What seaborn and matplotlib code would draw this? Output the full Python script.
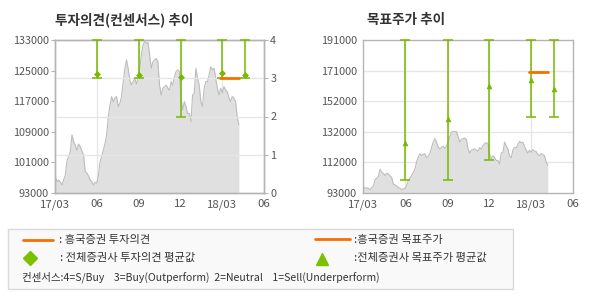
import numpy as np
import pandas as pd
import matplotlib
matplotlib.use("Agg")
import matplotlib.pyplot as plt
import seaborn as sns
from matplotlib.patches import Rectangle
from matplotlib.lines import Line2D

sns.set_theme(style="white")
plt.rcParams['font.family'] = ['Noto Sans CJK KR', 'DejaVu Sans']

# ---------------- data ----------------
price_start = "2017-03-02"
price_end = "2018-04-07"
price = [97000, 96000, 96400, 95800, 95100, 96500, 97700, 101600, 102500, 103800,
         108200, 106400, 105500, 104200, 105800, 105100, 104000, 102900, 98600, 98200,
         97500, 96400, 96000, 95100, 95800, 95600, 97700, 101200, 102500, 104200,
         106000, 108200, 113000, 116000, 118200, 116900, 117800, 118200, 115600, 116500,
         118200, 122100, 125600, 127800, 125600, 122500, 121200, 122100, 123000,
         121500, 123000, 125600, 129100, 131700, 132600, 132100, 132400, 129100, 125600,
         127300, 127800, 128200, 127300, 121200, 118600, 120400, 120800, 121200, 120400,
         119900, 122100, 121200, 123400, 124700, 125200, 124700, 117800, 114700, 116900,
         115600, 113800, 113800, 111600, 118600, 119100, 125600, 123000, 121200, 116900,
         115600, 120400, 122100, 122100, 123900, 126000, 125200, 125600, 123000, 120400,
         118600, 120400, 119100, 120800, 119900, 119500, 117800, 116900, 118200, 117800,
         116900, 113000, 110800]

event_dates = ["2017-06-01", "2017-09-01", "2017-12-01", "2018-03-01", "2018-04-20"]
op_avg = [3.10, 3.08, 3.02, 3.13, 3.08]
op_min = [3, 3, 2, 3, 3]
op_max = [4, 4, 4, 4, 4]

tp_avg = [125000, 140500, 161500, 165300, 159500]
tp_min = [101500, 101500, 114400, 141400, 141400]
tp_max = [191000, 191000, 191000, 191000, 191000]

hk_dates = ["2018-02-25", "2018-04-07"]
hk_op = [3, 3]
hk_tp = [170500, 170500]

xtick_dates = ["2017-03-01", "2017-06-01", "2017-09-01", "2017-12-01", "2018-03-01", "2018-06-01"]
xtick_labels = ["17/03", "06", "09", "12", "18/03", "06"]
left_yticks = [93000, 101000, 109000, 117000, 125000, 133000]
right_op_ticks = [0, 1, 2, 3, 4]
tp_tick_labels = ["93000", "112000", "132000", "152000", "171000", "191000"]

titles = ["투자의견(컨센서스) 추이", "목표주가 추이"]
leg_hk_op = ": 흥국증권 투자의견"
leg_all_op = ": 전체증권사 투자의견 평균값"
leg_hk_tp = ":흥국증권 목표주가"
leg_all_tp = ":전체증권사 목표주가 평균값"
leg_cons = "컨센서스:4=S/Buy    3=Buy(Outperform)  2=Neutral    1=Sell(Underperform)"

# ---------------- styling ----------------
GREEN = "#77b800"
ORANGE = "#f57000"
AREA = "#e0e0e0"
AREA_LINE = "#bdbdbd"
GRID = "#e6e6e6"
SPINE = "#b4b4b4"
TXT = "#555555"

df = pd.DataFrame({"date": pd.date_range(price_start, price_end, periods=len(price)),
                   "price": price})
ev = pd.DataFrame({"date": pd.to_datetime(event_dates), "op_avg": op_avg, "op_min": op_min,
                   "op_max": op_max, "tp_avg": tp_avg, "tp_min": tp_min, "tp_max": tp_max})
hk = pd.DataFrame({"date": pd.to_datetime(hk_dates), "op": hk_op, "tp": hk_tp})
xt = pd.to_datetime(xtick_dates)

W, H = 590, 300
fig = plt.figure(figsize=(W / 100, H / 100), dpi=100)
fig.patch.set_facecolor("white")

def px_axes(x0, y0, x1, y1):
    return fig.add_axes([x0 / W, 1 - y1 / H, (x1 - x0) / W, (y1 - y0) / H])

def style_axes(ax):
    for s in ax.spines.values():
        s.set_color(SPINE)
        s.set_linewidth(1.0)
    ax.tick_params(axis="both", colors=SPINE, labelcolor=TXT, labelsize=7.8,
                   length=3, width=0.8, pad=1.5)
    ax.tick_params(axis="x", labelsize=8.2)
    ax.set_xlabel("")
    ax.set_ylabel("")

def price_area(ax, bottom):
    ax.fill_between(df["date"], df["price"], bottom, color=AREA, lw=0, zorder=1)
    sns.lineplot(data=df, x="date", y="price", ax=ax, color=AREA_LINE, lw=0.8, zorder=2)

# ---------------- left chart ----------------
axL = px_axes(55, 40, 264, 193)
price_area(axL, left_yticks[0])
axL.set_ylim(left_yticks[0], left_yticks[-1])
axL.set_xlim(xt[0], xt[-1])
axL.set_yticks(left_yticks)
axL.set_yticklabels([str(v) for v in left_yticks])
axL.set_xticks(xt)
axL.set_xticklabels(xtick_labels)
for d in xt[1:-1]:
    axL.axvline(d, color=GRID, lw=1.0, zorder=0.5)
style_axes(axL)

axR = axL.twinx()
axR.set_ylim(0, 4)
axR.set_yticks(right_op_ticks)
axR.set_yticklabels([str(v) for v in right_op_ticks])
for v in right_op_ticks[1:-1]:
    axR.axhline(v, color=GRID, lw=1.0, zorder=0.5)
axR.errorbar(ev["date"], ev["op_avg"],
             yerr=[ev["op_avg"] - ev["op_min"], ev["op_max"] - ev["op_avg"]],
             fmt="none", ecolor=GREEN, elinewidth=1.1, capsize=3.3, capthick=1.1,
             clip_on=False, zorder=4)
sns.scatterplot(data=ev, x="date", y="op_avg", ax=axR, marker="D", s=9,
                color=GREEN, edgecolor=GREEN, linewidth=0.5, zorder=5, clip_on=False)
sns.lineplot(data=hk, x="date", y="op", ax=axR, color=ORANGE, lw=2.0, zorder=6)
style_axes(axR)
axL.set_zorder(0)
axR.patch.set_visible(False)

# ---------------- right chart ----------------
tp_lo = float(tp_tick_labels[0])
tp_hi = float(tp_tick_labels[-1])
tp_ticks = np.linspace(tp_lo, tp_hi, len(tp_tick_labels))
ax2 = px_axes(363, 40, 573, 193)
price_area(ax2, tp_lo)
ax2.set_ylim(tp_lo, tp_hi)
ax2.set_xlim(xt[0], xt[-1])
ax2.set_yticks(tp_ticks)
ax2.set_yticklabels(tp_tick_labels)
ax2.set_xticks(xt)
ax2.set_xticklabels(xtick_labels)
for d in xt[1:-1]:
    ax2.axvline(d, color=GRID, lw=1.0, zorder=0.5)
for v in tp_ticks[1:-1]:
    ax2.axhline(v, color=GRID, lw=1.0, zorder=0.5)
ax2.errorbar(ev["date"], ev["tp_avg"],
             yerr=[ev["tp_avg"] - ev["tp_min"], ev["tp_max"] - ev["tp_avg"]],
             fmt="none", ecolor=GREEN, elinewidth=1.1, capsize=3.3, capthick=1.1,
             clip_on=False, zorder=4)
sns.scatterplot(data=ev, x="date", y="tp_avg", ax=ax2, marker="^", s=12,
                color=GREEN, edgecolor=GREEN, linewidth=0.5, zorder=5, clip_on=False)
sns.lineplot(data=hk, x="date", y="tp", ax=ax2, color=ORANGE, lw=2.0, zorder=6)
style_axes(ax2)

# titles
fig.text(55 / W, 1 - 20 / H, titles[0], fontsize=9.8, fontweight="bold",
         color="#333333", va="center", ha="left")
fig.text(367 / W, 1 - 20 / H, titles[1], fontsize=9.8, fontweight="bold",
         color="#333333", va="center", ha="left")

# ---------------- legend box ----------------
lg = fig.add_axes([0, 0, 1, 1], zorder=-1)
lg.set_xlim(0, W)
lg.set_ylim(H, 0)
lg.axis("off")
lg.add_patch(Rectangle((7.5, 228.5), 505, 60, facecolor="#f9f9f9",
                       edgecolor="#dadada", lw=1.0))
LS = 8.1
lg.add_line(Line2D([23, 53], [240, 240], color=ORANGE, lw=2.0))
lg.text(59, 240, leg_hk_op, fontsize=LS, color="#333333", va="center")
lg.plot([30], [258], marker="D", ms=7.5, color="#7cc000", mec="#7cc000")
lg.text(60, 258, leg_all_op, fontsize=LS, color="#333333", va="center")
lg.text(22, 277, leg_cons, fontsize=7.55, color="#333333", va="center")
lg.add_line(Line2D([315, 350], [239, 239], color=ORANGE, lw=2.0))
lg.text(354, 240, leg_hk_tp, fontsize=LS, color="#333333", va="center")
lg.plot([322], [259], marker="^", ms=8, color="#7cc000", mec="#7cc000")
lg.text(354, 258, leg_all_tp, fontsize=LS, color="#333333", va="center")

fig.savefig("out.png", dpi=100, facecolor="white")
